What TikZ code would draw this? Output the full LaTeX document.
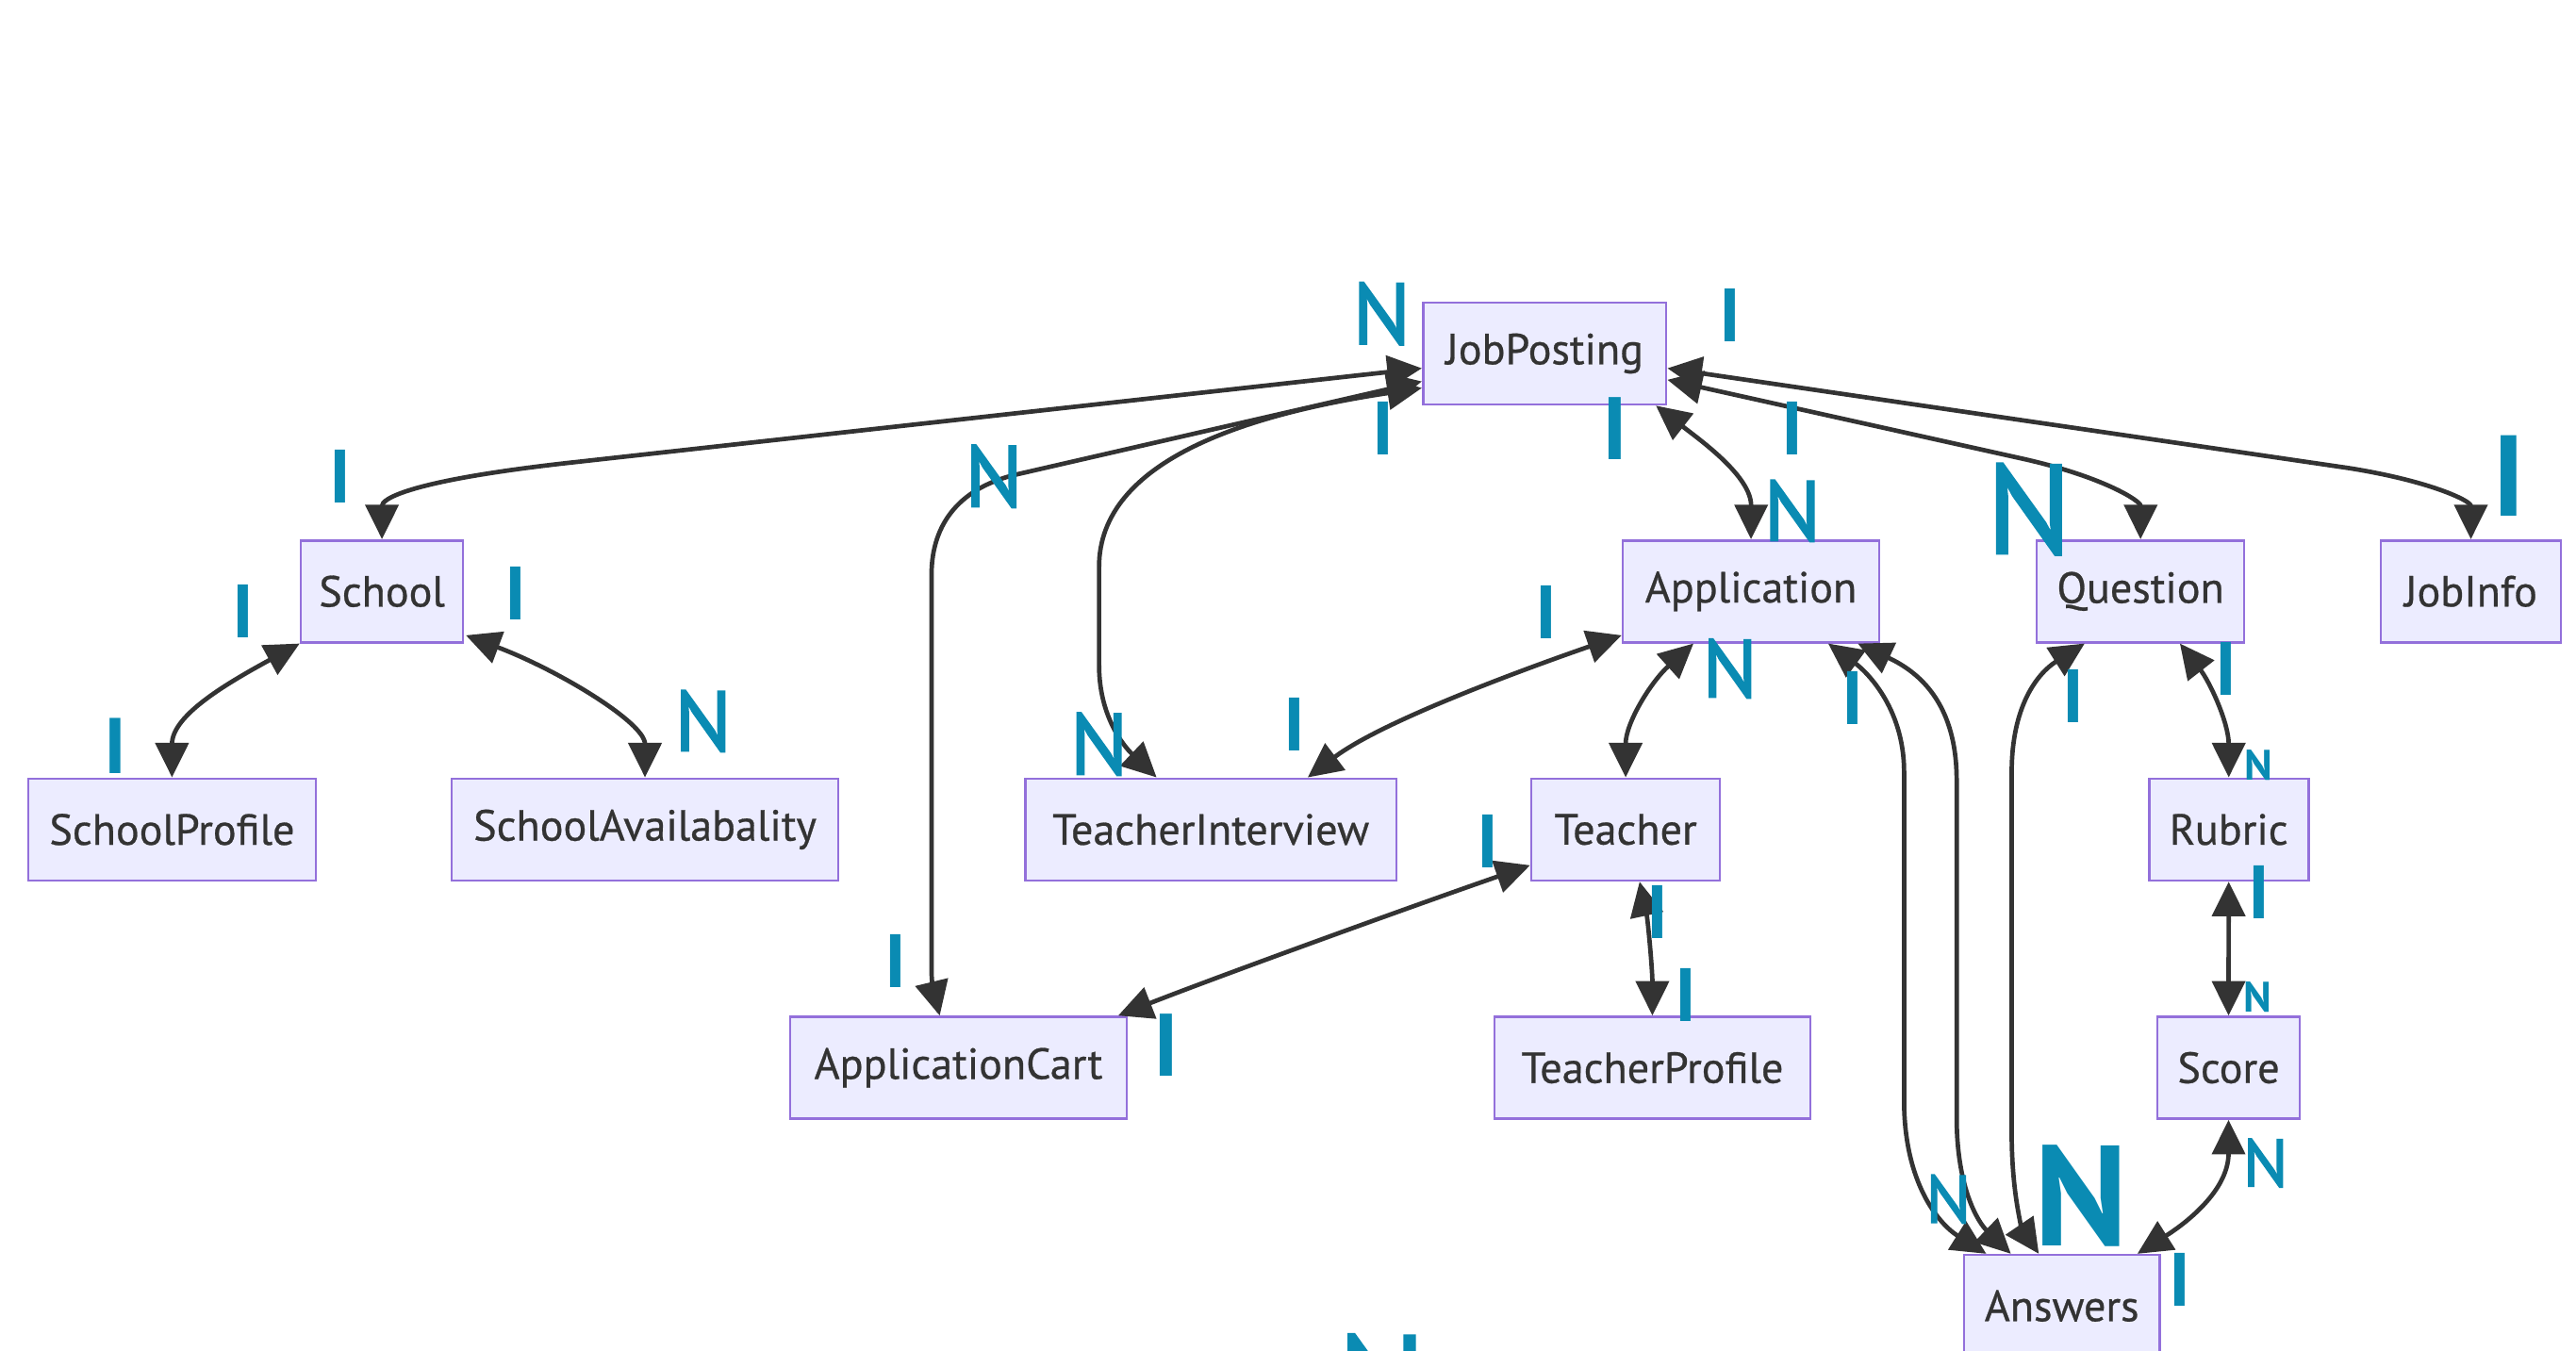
\documentclass[tikz,border=0pt]{standalone}
\usepackage{fontspec}
\setmainfont{PT Sans}
\newfontfamily\boxfont[FakeBold=0.6]{PT Sans}
\newfontfamily\nfont[FakeBold=1.8]{PT Sans}
\usetikzlibrary{arrows.meta,calc}
\definecolor{nodefill}{HTML}{ECECFF}
\definecolor{nodeline}{HTML}{9370DB}
\definecolor{edgecol}{HTML}{333333}
\definecolor{lblcol}{HTML}{0A8BB3}
\begin{document}
\begin{tikzpicture}[x=1pt,y=-1pt,
  ent/.style={draw=nodeline, fill=nodefill, line width=1.5pt, minimum height=62pt, inner sep=0pt, text=edgecol, font=\boxfont\fontsize{26.5}{30}\selectfont},
  rel/.style={draw=edgecol, line width=2.7pt, {Triangle[length=21pt,width=20pt]}-{Triangle[length=21pt,width=20pt]}},
  card/.style={text=lblcol, inner sep=0pt, font=\bfseries\fontsize{#1}{#1}\selectfont},
  cardn/.style={text=lblcol, inner sep=0pt, font=\nfont\fontsize{#1}{#1}\selectfont},
]
\useasboundingbox (0,0) rectangle (1568,822);
\clip (0,0) rectangle (1568,822);
\fill[white] (0,0) rectangle (1568,822);

% entities
\node[ent, minimum width=148pt] (JP) at (940.2,215.2) {JobPosting};
\node[ent, minimum width=98.7pt] (School) at (232.5,360) {School};
\node[ent, minimum width=175pt] (SP) at (104.7,505) {SchoolProfile};
\node[ent, minimum width=235.3pt] (SA) at (392.6,505) {SchoolAvailabality};
\node[ent, minimum width=226pt] (TI) at (737,505) {TeacherInterview};
\node[ent, minimum width=156pt] (App) at (1065.8,360) {Application};
\node[ent, minimum width=126.3pt] (Q) at (1302.9,360) {Question};
\node[ent, minimum width=109.6pt] (JI) at (1504,360) {JobInfo};
\node[ent, minimum width=114.8pt] (T) at (989.5,505) {Teacher};
\node[ent, minimum width=97pt] (R) at (1356.6,505) {Rubric};
\node[ent, minimum width=205pt] (AC) at (583.4,650) {ApplicationCart};
\node[ent, minimum width=192.3pt] (TP) at (1005.8,650) {TeacherProfile};
\node[ent, minimum width=86.7pt] (S) at (1356.5,650) {Score};
\node[ent, minimum width=119pt] (A) at (1255,795) {Answers};

% relations
\draw[rel] ($(JP.west)+(0,9)$) -- (344,282) .. controls (247,293) and (232.5,304) .. (School.north);
\draw[rel] ($(JP.west)+(0,17)$) -- (618,289) .. controls (585,297) and (567,318) .. (567,350) -- (567,590) .. controls (567,603) and (570,610) .. ($(AC.north)+(-11.4,0)$);
\draw[rel] ($(JP.west)+(0,21)$) .. controls (760,252) and (669,280) .. (669,345) -- (669,405) .. controls (669,440) and (688,458) .. ($(TI.north)+(-33,0)$);
\draw[rel] ($(JP.south east)+(-7,0)$) .. controls (1035,268) and (1066,290) .. (App.north);
\draw[rel] ($(JP.east)+(0,16)$) -- (1230,279) .. controls (1280,290) and (1303,305) .. (Q.north);
\draw[rel] ($(JP.east)+(0,9)$) -- (1430,285) .. controls (1480,293) and (1504,305) .. (JI.north);
\draw[rel] (School.south west) .. controls (140,415) and (104.7,435) .. (SP.north);
\draw[rel] ($(School.south east)+(1,-5)$) .. controls (340,408) and (392.6,440) .. (SA.north);
\draw[rel] ($(TI.north)+(59,0)$) .. controls (840,440) and (920,410) .. ($(App.south west)+(0,-5)$);
\draw[rel] ($(App.south)+(-35,0)$) .. controls (1005,415) and (989.5,440) .. (T.north);
\draw[rel] ($(T.south west)+(0,-10)$) .. controls (850,555) and (740,595) .. ($(AC.north east)+(-6,0)$);
\draw[rel] ($(T.south)+(8.5,0)$) .. controls (1003,560) and (1005.8,590) .. (TP.north);
\draw[rel] ($(App.south)+(47,0)$) .. controls (1135,408) and (1159,430) .. (1159,470) -- (1159,670) .. controls (1159,720) and (1180,745) .. ($(A.north)+(-46,0)$);
\draw[rel] ($(App.south)+(65,0)$) .. controls (1170,410) and (1191,430) .. (1191,475) -- (1191,680) .. controls (1191,725) and (1205,745) .. ($(A.north)+(-31,0)$);
\draw[rel] ($(Q.south)+(-34,0)$) .. controls (1240,410) and (1224.5,430) .. (1224.5,470) -- (1224.5,690) .. controls (1224.5,730) and (1232,750) .. ($(A.north)+(-14,0)$);
\draw[rel] ($(Q.south)+(24,0)$) .. controls (1345,415) and (1356.6,440) .. (R.north);
\draw[rel] (R.south) -- (S.north);
\draw[rel] (S.south) .. controls (1356.5,725) and (1330,745) .. ($(A.north)+(46,0)$);

% cardinality labels
\node[cardn=53] (c1) at (841,191) {N};
\node[card=46] (c2) at (1053,192) {I};
\node[card=46] (c3) at (207,290) {I};
\node[cardn=53] (c4) at (605,290) {N};
\node[card=46] (c5) at (842,261) {I};
\node[card=54] (c6) at (983,261) {I};
\node[card=46] (c7) at (1091,261) {I};
\node[cardn=52] (c8) at (1091,311) {N};
\node[cardn=77] (c9) at (1235,310) {N};
\node[card=70] (c10) at (1527,290) {I};
\node[card=46] (c11) at (148,372) {I};
\node[card=46] (c12) at (314,361) {I};
\node[card=48] (c13) at (70,454) {I};
\node[cardn=52] (c14) at (428,439) {N};
\node[cardn=53] (c15) at (669,453) {N};
\node[card=46] (c16) at (788,441) {I};
\node[card=46] (c17) at (941,373) {I};
\node[cardn=50] (c18) at (1053,407) {N};
\node[card=46] (c19) at (1128,425) {I};
\node[card=46] (c20) at (1262,424) {I};
\node[card=46] (c21) at (1355,407) {I};
\node[card=26] (c22) at (1375,466) {N};
\node[card=46] (c23) at (905.7,512) {I};
\node[card=46] (c24) at (1009,555) {I};
\node[card=46] (c25) at (1026,606) {I};
\node[card=46] (c26) at (1375,543) {I};
\node[card=26] (c27) at (1374,607) {N};
\node[card=46] (c28) at (545,585) {I};
\node[card=54] (c29) at (710,636) {I};
\node[cardn=41] (c30) at (1186,730) {N};
\node[card=87] (c31) at (1267,728) {N};
\node[cardn=41] (c32) at (1379,708) {N};
\node[card=46] (c33) at (1327,779) {I};
\node[cardn=80, anchor=north] (c34) at (841,812) {N};
\end{tikzpicture}
\end{document}
